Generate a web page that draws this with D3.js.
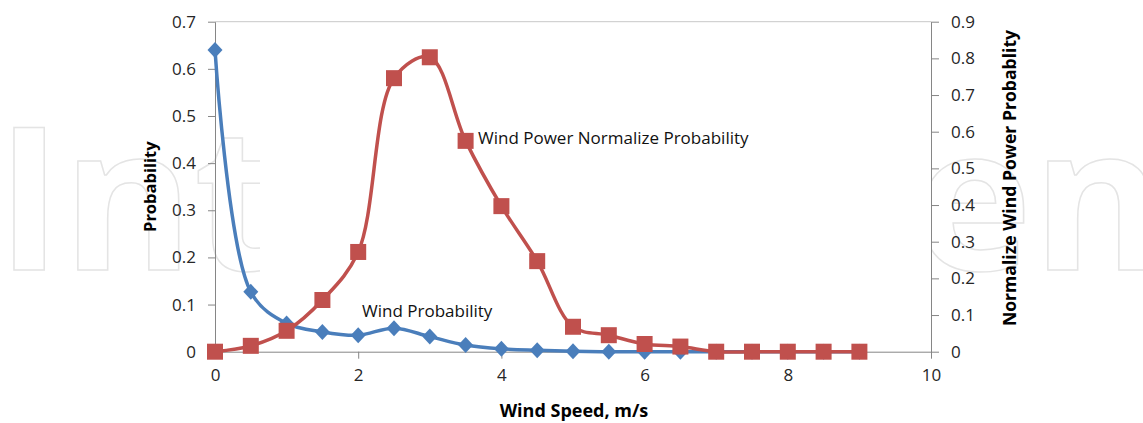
<!DOCTYPE html>
<meta charset="utf-8">
<style>

body {
  margin: 0;
  background: #fff;
}

.tick text {
  font: 17px "Open Sans", sans-serif;
  fill: #262626;
}

.axis path,
.axis line {
  stroke: #868686;
  stroke-width: 1;
}

.title {
  font: 700 16px "Open Sans", sans-serif;
  fill: #000;
}

.note {
  font: 17px "Open Sans", sans-serif;
  fill: #111;
}

.mark {
  font: 700 200px "Open Sans", sans-serif;
  fill: #fff;
  stroke: #e4e4e4;
  stroke-width: 1.5;
}

</style>
<body>
<script src="https://cdn.jsdelivr.net/npm/d3@7"></script>
<script>

// wind speed steps, m/s
const windSpeed = [0, 0.5, 1, 1.5, 2, 2.5, 3, 3.5, 4, 4.5, 5, 5.5, 6, 6.5, 7, 7.5, 8, 8.5, 9];

// left axis series
const windProb = [0.64, 0.127, 0.06, 0.042, 0.035, 0.05, 0.032, 0.014, 0.006, 0.003, 0.001,
                  0, 0, 0, 0, 0, 0, 0, 0];

// right axis series
const powerProb = [0, 0.016, 0.057, 0.141, 0.272, 0.746, 0.803, 0.575, 0.397, 0.247, 0.068,
                   0.045, 0.021, 0.014, 0, 0, 0, 0, 0];

const xTicks = [0, 2, 4, 6, 8, 10];
const leftTicks = [0, 0.1, 0.2, 0.3, 0.4, 0.5, 0.6, 0.7];
const rightTicks = [0, 0.1, 0.2, 0.3, 0.4, 0.5, 0.6, 0.7, 0.8, 0.9];

let width = 1143,
    height = 423,
    plotLeft = 215,
    plotRight = 931,
    plotTop = 21.7,
    plotBottom = 351.7;

let svg = d3.select("body").append("svg")
    .attr("width", width)
    .attr("height", height);

let x = d3.scaleLinear().domain([0, 10]).range([plotLeft, plotRight]);
let yL = d3.scaleLinear().domain([0, 0.7]).range([plotBottom, plotTop]);
let yR = d3.scaleLinear().domain([0, 0.9]).range([plotBottom, plotTop]);

let fmt = function(d) { return d === 0 ? "0" : d3.format(".1f")(d); };

// faint publisher watermark behind the chart
svg.append("text").attr("class", "mark").attr("x", -4).attr("y", 270).text("Int");
svg.append("text").attr("class", "mark").attr("x", 914).attr("y", 270).text("en");
svg.append("rect")
    .attr("x", 260).attr("y", 90)
    .attr("width", plotRight - 260).attr("height", 200)
    .attr("fill", "#fff");

// top edge of plot area
svg.append("line")
    .attr("x1", plotLeft).attr("x2", plotRight)
    .attr("y1", plotTop).attr("y2", plotTop)
    .attr("stroke", "#c8c8c8");

// axes
svg.append("g")
    .attr("class", "axis")
    .attr("transform", "translate(0," + plotBottom + ")")
    .call(d3.axisBottom(x).tickValues(xTicks).tickFormat(d3.format("d")).tickSize(7).tickPadding(10).tickSizeOuter(0));

svg.append("g")
    .attr("class", "axis")
    .attr("transform", "translate(" + plotLeft + ",0)")
    .call(d3.axisLeft(yL).tickValues(leftTicks).tickFormat(fmt).tickSize(7).tickPadding(12).tickSizeOuter(0));

svg.append("g")
    .attr("class", "axis")
    .attr("transform", "translate(" + plotRight + ",0)")
    .call(d3.axisRight(yR).tickValues(rightTicks).tickFormat(fmt).tickSize(8).tickPadding(12).tickSizeOuter(0));

// axis titles
svg.append("text")
    .attr("class", "title")
    .attr("transform", "translate(156," + (plotTop + plotBottom) / 2 + ")rotate(-90)")
    .attr("text-anchor", "middle")
    .style("font-size", "16.5px")
    .text("Probability");

svg.append("text")
    .attr("class", "title")
    .attr("transform", "translate(1016,178)rotate(-90)")
    .attr("text-anchor", "middle")
    .style("font-size", "17.6px")
    .text("Normalize Wind Power Probablity");

svg.append("text")
    .attr("class", "title")
    .attr("x", 574)
    .attr("y", 417)
    .attr("text-anchor", "middle")
    .style("font-size", "18px")
    .text("Wind Speed, m/s");

// smoothed lines like the spreadsheet ones
let lineL = d3.line()
    .curve(d3.curveCatmullRom.alpha(0.5))
    .x(function(d, i) { return x(windSpeed[i]); })
    .y(function(d) { return yL(d); });

let lineR = d3.line()
    .curve(d3.curveCatmullRom.alpha(0.5))
    .x(function(d, i) { return x(windSpeed[i]); })
    .y(function(d) { return yR(d); });

let blue = "#4a7ebb",
    red = "#c0504d";

svg.append("path")
    .datum(windProb)
    .attr("d", lineL)
    .attr("fill", "none")
    .attr("stroke", blue)
    .attr("stroke-width", 3.5);

svg.append("g").selectAll("path")
    .data(windProb)
    .enter().append("path")
    .attr("d", "M0,-8L7.5,0L0,8L-7.5,0Z")
    .attr("transform", function(d, i) { return "translate(" + x(windSpeed[i]) + "," + yL(d) + ")"; })
    .attr("fill", blue);

svg.append("path")
    .datum(powerProb)
    .attr("d", lineR)
    .attr("fill", "none")
    .attr("stroke", red)
    .attr("stroke-width", 3.5);

svg.append("g").selectAll("rect")
    .data(powerProb)
    .enter().append("rect")
    .attr("x", function(d, i) { return x(windSpeed[i]) - 8; })
    .attr("y", function(d) { return yR(d) - 8; })
    .attr("width", 16)
    .attr("height", 16)
    .attr("fill", red);

// series labels
svg.append("text")
    .attr("class", "note")
    .attr("x", 478)
    .attr("y", 144)
    .text("Wind Power Normalize Probability");

svg.append("text")
    .attr("class", "note")
    .attr("x", 362)
    .attr("y", 317)
    .text("Wind Probability");

</script>
